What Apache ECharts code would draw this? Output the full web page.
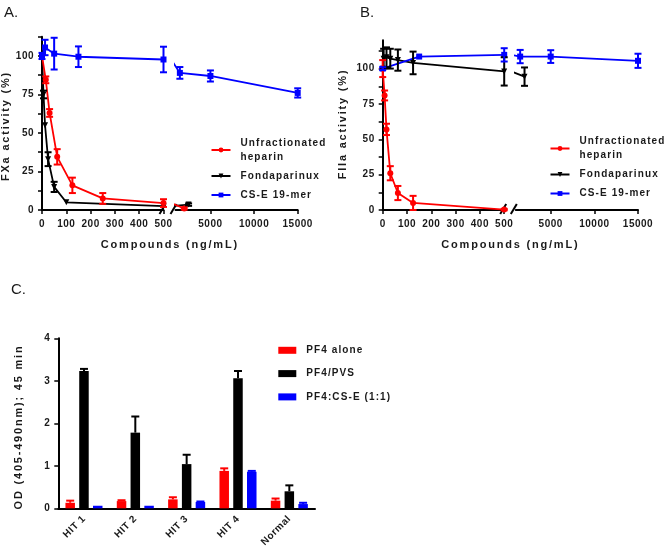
<!DOCTYPE html>
<html><head><meta charset="utf-8">
<script src="https://cdn.jsdelivr.net/npm/echarts@6/dist/echarts.min.js"></script>
<style>html,body{margin:0;padding:0;background:#fff}#c{width:666px;height:555px}</style>
</head><body><div id="c"></div>
<script>
// ---------------- DATA ----------------
// Panel A : FXa activity (%)
const ufhA_conc   = [0, 15.6, 31.25, 62.5, 125, 250, 500, 2000];
const ufhA_act    = [100, 84.5, 63, 34.5, 16, 7.5, 4.5, 1];
const ufhA_sem    = [0, 2.2, 2.5, 5, 5, 3.5, 2.5, 0.7];
const fondaA_conc = [0, 6.25, 12.5, 25, 50, 100, 500, 2500];
const fondaA_act  = [100, 75, 55, 33, 15, 5, 2.5, 3.5];
const fondaA_sem  = [0, 2.5, 0, 4.5, 3.3, 0, 0, 0.8];
const cseA_conc   = [0, 12.5, 50, 150, 500, 1500, 5000, 15000];
const cseA_act    = [100, 105.5, 101.5, 99.5, 97.7, 89, 87, 76];
const cseA_sem    = [2, 5, 10.3, 6.7, 8.3, 3.8, 3.6, 3];
// Panel B : FIIa activity (%)
const ufhB_conc   = [0, 7.8, 15.6, 31.25, 62.5, 125, 500];
const ufhB_act    = [100, 81, 57, 26, 12, 5, 0.3];
const ufhB_sem    = [6, 3.5, 4, 5, 5, 5, 0.5];
const fondaB_conc = [3.9, 15.6, 31.25, 62.5, 125, 500, 2000];
const fondaB_act  = [107, 108, 107, 106, 104, 98, 94.3];
const fondaB_sem  = [7, 7, 7, 7.5, 8, 10, 6.5];
const cseB_conc   = [0, 150, 500, 1500, 5000, 15000];
const cseB_act    = [100, 108.5, 109.7, 108.5, 108.5, 105.5];
const cseB_sem    = [1, 0, 4.7, 4.7, 4.5, 5];
// Axis ticks
const rightTicks = [5000, 10000, 15000];
const yTicksB    = [0, 12.5, 25, 37.5, 50, 62.5, 75, 87.5, 100, 112.5];
const yLabelsB   = [0, 25, 50, 75, 100];
// Panel C : OD
const hitCats     = ['HIT 1', 'HIT 2', 'HIT 3', 'HIT 4', 'Normal'];
const pf4Alone    = [0.13, 0.17, 0.21, 0.88, 0.18];
const pf4AloneErr = [0.05, 0.02, 0.05, 0.06, 0.05];
const pf4Pvs      = [3.23, 1.78, 1.04, 3.06, 0.40];
const pf4PvsErr   = [0.05, 0.38, 0.22, 0.17, 0.14];
const pf4Cse      = [0.06, 0.06, 0.15, 0.86, 0.10];
const pf4CseErr   = [0, 0, 0.01, 0.02, 0.03];

const NAMES = ['Unfractionated heparin', 'Fondaparinux', 'CS-E 19-mer'];
const C_NAMES = ['PF4 alone', 'PF4/PVS', 'PF4:CS-E (1:1)'];

// ---------------- letter spacing support ----------------
function lsp(font) { const m = /lsp(\d+)/.exec(font || ''); return m ? (+m[1]) / 10 : 0; }
(function () {
  const P = CanvasRenderingContext2D.prototype;
  const of = P.fillText;
  P.fillText = function (t, x, y, mw) {
    try { this.letterSpacing = lsp(this.font) + 'px'; } catch (e) {}
    return arguments.length > 3 && mw !== undefined ? of.call(this, t, x, y, mw) : of.call(this, t, x, y);
  };
  const mctx = document.createElement('canvas').getContext('2d');
  if (echarts.setPlatformAPI) {
    echarts.setPlatformAPI({
      measureText: function (text, font) {
        mctx.font = font || '12px sans-serif';
        const m = mctx.measureText(text);
        return {
          width: m.width + lsp(font) * String(text).length,
          actualBoundingBoxAscent: m.actualBoundingBoxAscent,
          actualBoundingBoxDescent: m.actualBoundingBoxDescent,
          actualBoundingBoxLeft: m.actualBoundingBoxLeft,
          actualBoundingBoxRight: m.actualBoundingBoxRight,
          fontBoundingBoxAscent: m.fontBoundingBoxAscent,
          fontBoundingBoxDescent: m.fontBoundingBoxDescent
        };
      }
    });
  }
})();

// ---------------- helpers ----------------
const TXT = '#1a1a1a';
const FF_TICK = 'Liberation Sans, lsp05';
const FF_LEG = 'Liberation Sans, lsp11';
const FF_TITLE = 'Liberation Sans, lsp18';
const RED = '#ff0000', BLK = '#000000', BLU = '#0000ff';

const inLeft = x => x <= 500;
const inRight = x => x >= 500;
const inRightStrict = x => x >= 1000;

function pts(cx, cy, pred) { return cx.map((x, i) => [x, cy[i]]).filter(p => pred(p[0])); }
function errPts(cx, cy, ce, pred) { return cx.map((x, i) => [x, cy[i], ce[i]]).filter(p => pred(p[0])); }

function lineSeries(name, color, symbol, rot, data, gi) {
  return {
    type: 'line', name: name, xAxisIndex: gi, yAxisIndex: gi, data: data,
    symbol: symbol, symbolRotate: rot, symbolSize: 6, showAllSymbol: true,
    lineStyle: { color: color, width: 1.8 }, itemStyle: { color: color },
    clip: true, silent: true, z: 3, animation: false
  };
}
function errSeries(color, data, gi) {
  return {
    type: 'custom', name: 'err', xAxisIndex: gi, yAxisIndex: gi, data: data,
    silent: true, z: 4, animation: false,
    renderItem: function (params, api) {
      const x = api.value(0), y = api.value(1), e = api.value(2);
      if (!e) return null;
      const t = api.coord([x, y + e]), b = api.coord([x, y - e]);
      const w = 3.5, st = { stroke: color, lineWidth: 2 };
      return {
        type: 'group', children: [
          { type: 'line', shape: { x1: t[0], y1: t[1], x2: b[0], y2: b[1] }, style: st },
          { type: 'line', shape: { x1: t[0] - w, y1: t[1], x2: t[0] + w, y2: t[1] }, style: st },
          { type: 'line', shape: { x1: b[0] - w, y1: b[1], x2: b[0] + w, y2: b[1] }, style: st }
        ]
      };
    }
  };
}
const BAR_W = 9.5, BAR_GAP = 0.45;
function barErrSeries(color, vals, errs, k) {
  return {
    type: 'custom', name: 'err', xAxisIndex: 4, yAxisIndex: 4,
    data: vals.map((v, i) => [i, v, errs[i]]), silent: true, z: 4, animation: false,
    renderItem: function (params, api) {
      const i = api.value(0), v = api.value(1), e = api.value(2);
      if (!e) return null;
      const off = (k - 1) * BAR_W * (1 + BAR_GAP);
      const b = api.coord([i, v]), t = api.coord([i, v + e]);
      const x = b[0] + off, w = 4, st = { stroke: color, lineWidth: 2 };
      return {
        type: 'group', children: [
          { type: 'line', shape: { x1: x, y1: b[1], x2: x, y2: t[1] }, style: st },
          { type: 'line', shape: { x1: x - w, y1: t[1], x2: x + w, y2: t[1] }, style: st }
        ]
      };
    }
  };
}

const axisLineStyle = { show: true, lineStyle: { color: '#000', width: 2 } };
const tickStyle = { show: true, length: 4, lineStyle: { color: '#000', width: 1.5 } };
const tickLabel = { color: TXT, fontSize: 10, fontWeight: 'bold', fontFamily: FF_TICK };

function xLeft(gi) {
  return {
    type: 'value', gridIndex: gi, min: 0, max: 500, interval: 100,
    axisLine: axisLineStyle, axisTick: tickStyle, splitLine: { show: false },
    axisLabel: Object.assign({ margin: 9, formatter: v => String(v), showMinLabel: true, showMaxLabel: true }, tickLabel)
  };
}
function xRight(gi) {
  return {
    type: 'value', gridIndex: gi, min: 1000, max: 15000,
    axisLine: axisLineStyle, splitLine: { show: false },
    axisTick: Object.assign({ customValues: rightTicks }, tickStyle),
    axisLabel: Object.assign({ margin: 9, customValues: rightTicks, formatter: v => String(v) }, tickLabel)
  };
}

const grids = [
  { left: 42, top: 36.7, width: 121.5, height: 173.3 },
  { left: 175.5, top: 36.7, width: 122.2, height: 173.3 },
  { left: 382.7, top: 40.3, width: 121.5, height: 169.7 },
  { left: 515.8, top: 40.3, width: 122.2, height: 169.7 },
  { left: 58.3, top: 338.3, width: 256.7, height: 170 }
].map(g => Object.assign({ outerBoundsMode: 'none', containLabel: false, show: false }, g));

const legendText = { color: TXT, fontSize: 10, fontWeight: 'bold', fontFamily: FF_LEG, lineHeight: 14, padding: [0, 0, 0, 5] };

const option = {
  animation: false,
  backgroundColor: '#ffffff',
  grid: grids,
  xAxis: [
    xLeft(0), xRight(1), xLeft(2), xRight(3),
    {
      type: 'category', gridIndex: 4, data: hitCats,
      axisLine: axisLineStyle, axisTick: { show: false }, splitLine: { show: false },
      axisLabel: Object.assign({ rotate: 45, interval: 0, margin: 9 }, tickLabel)
    }
  ],
  yAxis: [
    {
      type: 'value', gridIndex: 0, min: 0, max: 112.5, interval: 12.5,
      axisLine: axisLineStyle, axisTick: tickStyle, splitLine: { show: false },
      axisLabel: Object.assign({ margin: 8, formatter: v => (v % 25 === 0 ? String(v) : '') }, tickLabel)
    },
    { type: 'value', gridIndex: 1, min: 0, max: 112.5, show: false, splitLine: { show: false } },
    {
      type: 'value', gridIndex: 2, min: 0, max: 120,
      axisLine: axisLineStyle, splitLine: { show: false },
      axisTick: Object.assign({ customValues: yTicksB }, tickStyle),
      axisLabel: Object.assign({ margin: 8, customValues: yLabelsB, formatter: v => String(v) }, tickLabel)
    },
    { type: 'value', gridIndex: 3, min: 0, max: 120, show: false, splitLine: { show: false } },
    {
      type: 'value', gridIndex: 4, min: 0, max: 4, interval: 1,
      axisLine: axisLineStyle, axisTick: tickStyle, splitLine: { show: false },
      axisLabel: Object.assign({ margin: 8 }, tickLabel)
    }
  ],
  legend: [
    {
      left: 210.5, top: 136, orient: 'vertical', padding: 0, itemGap: 5,
      itemWidth: 19, itemHeight: 6, selectedMode: false, data: NAMES,
      formatter: n => (n === NAMES[0] ? 'Unfractionated\nheparin' : n),
      textStyle: legendText
    },
    {
      left: 549.5, top: 134.5, orient: 'vertical', padding: 0, itemGap: 5,
      itemWidth: 19, itemHeight: 6, selectedMode: false, data: NAMES,
      formatter: n => (n === NAMES[0] ? 'Unfractionated\nheparin' : n),
      textStyle: legendText
    },
    {
      left: 278.3, top: 344.3, orient: 'vertical', padding: 0, itemGap: 11.3,
      itemWidth: 18, itemHeight: 7, icon: 'rect', selectedMode: false, data: C_NAMES,
      textStyle: Object.assign({}, legendText, { lineHeight: 12 })
    }
  ],
  series: [
    // Panel A left
    lineSeries(NAMES[1], BLK, 'triangle', 180, pts(fondaA_conc, fondaA_act, inLeft), 0),
    lineSeries(NAMES[0], RED, 'circle', 0, pts(ufhA_conc, ufhA_act, inLeft), 0),
    lineSeries(NAMES[2], BLU, 'rect', 0, pts(cseA_conc, cseA_act, inLeft), 0),
    errSeries(BLK, errPts(fondaA_conc, fondaA_act, fondaA_sem, inLeft), 0),
    errSeries(RED, errPts(ufhA_conc, ufhA_act, ufhA_sem, inLeft), 0),
    errSeries(BLU, errPts(cseA_conc, cseA_act, cseA_sem, inLeft), 0),
    // Panel A right
    lineSeries(NAMES[1], BLK, 'triangle', 180, pts(fondaA_conc, fondaA_act, inRight), 1),
    lineSeries(NAMES[0], RED, 'circle', 0, pts(ufhA_conc, ufhA_act, inRight), 1),
    lineSeries(NAMES[2], BLU, 'rect', 0, pts(cseA_conc, cseA_act, inRight), 1),
    errSeries(BLK, errPts(fondaA_conc, fondaA_act, fondaA_sem, inRightStrict), 1),
    errSeries(RED, errPts(ufhA_conc, ufhA_act, ufhA_sem, inRightStrict), 1),
    errSeries(BLU, errPts(cseA_conc, cseA_act, cseA_sem, inRightStrict), 1),
    // Panel B left
    lineSeries(NAMES[1], BLK, 'triangle', 180, pts(fondaB_conc, fondaB_act, inLeft), 2),
    lineSeries(NAMES[0], RED, 'circle', 0, pts(ufhB_conc, ufhB_act, inLeft), 2),
    lineSeries(NAMES[2], BLU, 'rect', 0, pts(cseB_conc, cseB_act, inLeft), 2),
    errSeries(BLK, errPts(fondaB_conc, fondaB_act, fondaB_sem, inLeft), 2),
    errSeries(RED, errPts(ufhB_conc, ufhB_act, ufhB_sem, inLeft), 2),
    errSeries(BLU, errPts(cseB_conc, cseB_act, cseB_sem, inLeft), 2),
    // Panel B right
    lineSeries(NAMES[1], BLK, 'triangle', 180, pts(fondaB_conc, fondaB_act, inRight), 3),
    lineSeries(NAMES[2], BLU, 'rect', 0, pts(cseB_conc, cseB_act, inRight), 3),
    errSeries(BLK, errPts(fondaB_conc, fondaB_act, fondaB_sem, inRightStrict), 3),
    errSeries(BLU, errPts(cseB_conc, cseB_act, cseB_sem, inRightStrict), 3),
    // Panel C
    { type: 'bar', name: C_NAMES[0], xAxisIndex: 4, yAxisIndex: 4, data: pf4Alone, barWidth: BAR_W, barGap: (BAR_GAP * 100) + '%', itemStyle: { color: RED }, silent: true },
    { type: 'bar', name: C_NAMES[1], xAxisIndex: 4, yAxisIndex: 4, data: pf4Pvs, barWidth: BAR_W, barGap: (BAR_GAP * 100) + '%', itemStyle: { color: BLK }, silent: true },
    { type: 'bar', name: C_NAMES[2], xAxisIndex: 4, yAxisIndex: 4, data: pf4Cse, barWidth: BAR_W, barGap: (BAR_GAP * 100) + '%', itemStyle: { color: BLU }, silent: true },
    barErrSeries(RED, pf4Alone, pf4AloneErr, 0),
    barErrSeries(BLK, pf4Pvs, pf4PvsErr, 1),
    barErrSeries(BLU, pf4Cse, pf4CseErr, 2)
  ]
};

const chart = echarts.init(document.getElementById('c'), null, { renderer: 'canvas', width: 666, height: 555 });
chart.setOption(option);

// ---------------- texts and axis-break marks ----------------
function txt(id, s, x, y, font, rot, align) {
  return { type: 'text', id: id, x: x, y: y, rotation: rot || 0, silent: true,
    style: { text: s, font: font, fill: TXT, align: align || 'center', verticalAlign: 'middle' } };
}
const TITLE_FONT = 'bold 11px ' + FF_TITLE;
const PANEL_FONT = '15px Liberation Sans';
function slash(id, cx, cy) {
  return { type: 'line', id: id, silent: true,
    shape: { x1: cx - 3, y1: cy + 5, x2: cx + 3, y2: cy - 5 }, style: { stroke: '#000', lineWidth: 2 } };
}
const aL = chart.convertToPixel({ xAxisIndex: 0, yAxisIndex: 0 }, [0, 0]);
const aEnd = chart.convertToPixel({ xAxisIndex: 0, yAxisIndex: 0 }, [500, 0]);
const aStart = chart.convertToPixel({ xAxisIndex: 1, yAxisIndex: 1 }, [1000, 0]);
const bL = chart.convertToPixel({ xAxisIndex: 2, yAxisIndex: 2 }, [0, 0]);
const bEnd = chart.convertToPixel({ xAxisIndex: 2, yAxisIndex: 2 }, [500, 0]);
const bStart = chart.convertToPixel({ xAxisIndex: 3, yAxisIndex: 3 }, [1000, 0]);
const aR = chart.convertToPixel({ xAxisIndex: 1, yAxisIndex: 1 }, [15000, 0]);
const bR = chart.convertToPixel({ xAxisIndex: 3, yAxisIndex: 3 }, [15000, 0]);

chart.setOption({
  graphic: [
    txt('pa', 'A.', 4, 13, PANEL_FONT, 0, 'left'),
    txt('pb', 'B.', 360, 13, PANEL_FONT, 0, 'left'),
    txt('pc', 'C.', 11, 290, PANEL_FONT, 0, 'left'),
    txt('xa', 'Compounds (ng/mL)', (aL[0] + aR[0]) / 2, 244.5, TITLE_FONT),
    txt('xb', 'Compounds (ng/mL)', (bL[0] + bR[0]) / 2, 244.5, TITLE_FONT),
    txt('ya', 'FXa activity (%)', 6, 126, TITLE_FONT, Math.PI / 2),
    txt('yb', 'FIIa activity (%)', 343, 124, TITLE_FONT, Math.PI / 2),
    txt('yc', 'OD (405-490nm); 45 min', 19, 427, TITLE_FONT, Math.PI / 2),
    slash('s1', aEnd[0] - 1, aEnd[1] - 1),
    slash('s2', aStart[0] - 2, aStart[1] - 1),
    slash('s3', bEnd[0] - 1, bEnd[1] - 1),
    slash('s4', bStart[0] - 2, bStart[1] - 1)
  ]
});
</script>
</body></html>
